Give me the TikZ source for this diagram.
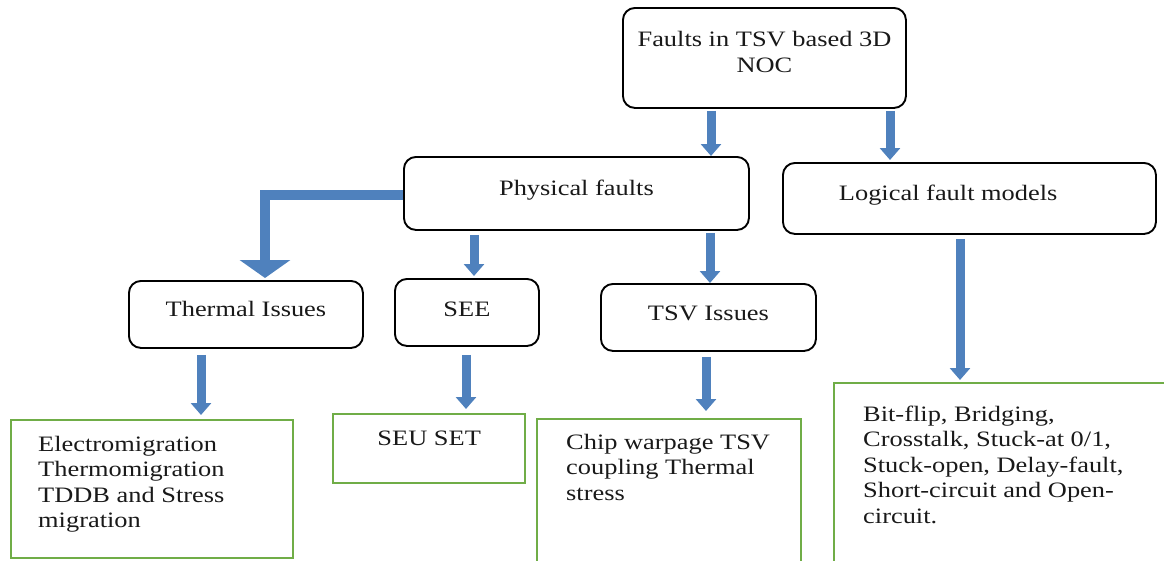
\documentclass[tikz,border=0pt]{standalone}
\usepackage{fontspec}
\setmainfont{Liberation Serif}[FakeStretch=1.2]
\usetikzlibrary{arrows.meta}
\definecolor{arrowblue}{HTML}{4F81BD}
\definecolor{boxgreen}{HTML}{70AD47}
% centred text box: width, height, first-baseline offset, text
\newcommand{\cbx}[4]{\parbox[c][#2pt][t]{#1pt}{\centering\rule{0pt}{#3pt}#4}}
% left text box: width, height, first-baseline offset, text, left inset
\newcommand{\lbx}[5]{\parbox[c][#2pt][t]{#1pt}{\raggedright\leftskip=#5pt\rule{0pt}{#3pt}#4}}
\begin{document}
\begin{tikzpicture}[x=1pt,y=-1pt,
  every node/.style={font=\fontsize{22}{25.5}\selectfont, text=black!90, inner sep=0pt, anchor=north west},
  catbox/.style={draw=black, line width=1.9pt, rounded corners=12pt},
  leafbox/.style={draw=boxgreen, line width=2.4pt},
  barrow/.style={draw=arrowblue, line width=9pt, -{Triangle[width=20pt,length=12pt]}}
]
\useasboundingbox (0,0) rectangle (1164,560);

\node[catbox] (top) at (622,7) {\cbx{283}{100}{39}{Faults in TSV based 3D\\NOC}};
\node[catbox] (phys) at (403,156) {\cbx{345}{73}{39}{Physical faults}};
\node[catbox] (logic) at (782,162) {\lbx{373}{71}{38}{Logical fault models}{56}};
\node[catbox] (therm) at (128,280) {\cbx{234}{67}{36}{Thermal Issues}};
\node[catbox] (see) at (394,278) {\cbx{144}{67}{38}{SEE}};
\node[catbox] (tsv) at (600,283) {\cbx{215}{67}{37}{TSV Issues}};

\node[leafbox] (electro) at (10,419) {\lbx{282}{138}{31}{Electromigration\\Thermomigration\\TDDB and Stress\\migration}{27}};
\node[leafbox] (seu) at (332,413) {\cbx{192}{69}{31}{SEU SET}};
\node[leafbox] (chip) at (536,418) {\lbx{264}{152}{30}{Chip warpage TSV\\coupling Thermal\\stress}{29}};
\node[leafbox] (bit) at (833,382) {\lbx{345}{190}{38}{Bit-flip, Bridging,\\Crosstalk, Stuck-at 0/1,\\Stuck-open, Delay-fault,\\Short-circuit and Open-\\circuit.}{29}};

\draw[barrow, shorten <=2pt] ([xshift=89]top.south west) -- ([xshift=308]phys.north west);
\draw[barrow, shorten <=2pt, shorten >=2pt] ([xshift=268]top.south west) -- ([xshift=108]logic.north west);
\draw[barrow, shorten <=4pt, shorten >=2pt] ([xshift=71]phys.south west) -- ([xshift=80]see.north west);
\draw[barrow, shorten <=2pt] ([xshift=307]phys.south west) -- ([xshift=110]tsv.north west);
\draw[barrow, line width=10pt, -{Triangle[width=50pt,length=18pt]}, shorten >=2pt]
  ([yshift=-39]phys.north west) -| ([xshift=137]therm.north west);
\draw[barrow, shorten <=4pt, shorten >=2pt] ([xshift=178]logic.south west) -- ([xshift=127]bit.north west);
\draw[barrow, shorten <=6pt, shorten >=4pt] ([xshift=73]therm.south west) -- ([xshift=191]electro.north west);
\draw[barrow, shorten <=8pt, shorten >=4pt] ([xshift=72]see.south west) -- ([xshift=134]seu.north west);
\draw[barrow, shorten <=5pt, shorten >=7pt] ([xshift=106]tsv.south west) -- ([xshift=170]chip.north west);
\end{tikzpicture}
\end{document}
